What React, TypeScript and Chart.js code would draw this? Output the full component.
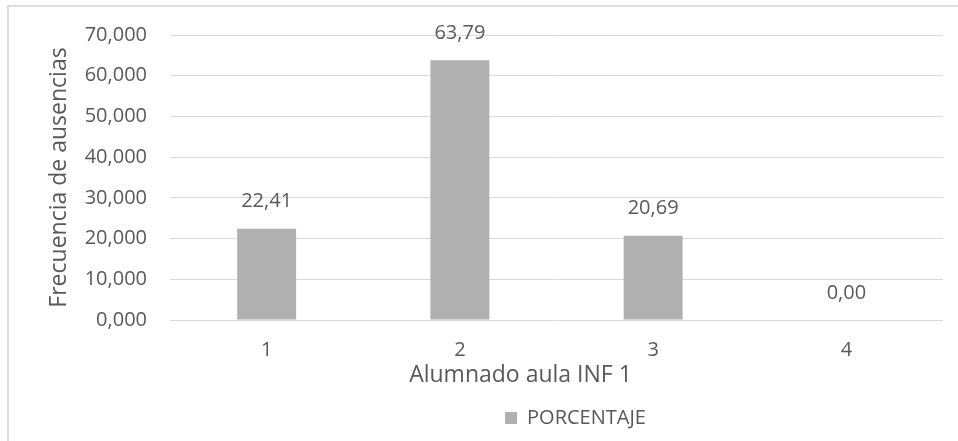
import React, { useEffect, useRef } from "react";
import { Chart, registerables } from "chart.js";

Chart.register(...registerables);

const categories = ["1", "2", "3", "4"];
const porcentaje = [22.41, 63.79, 20.69, 0.0];
const seriesName = "PORCENTAJE";
const yTitle = "Frecuencia de ausencias";
const xTitle = "Alumnado aula INF 1";
const yMin = 0;
const yMax = 70;
const yStep = 10;

const FONT = "'Open Sans', sans-serif";
const TEXT = "#595959";
const BAR = "#B0B0B0";
const GRID = "#D9D9D9";

const fmt = (v: number, d: number) => v.toFixed(d).replace(".", ",");

const dataLabels = {
  id: "dataLabels",
  afterDatasetsDraw(chart: any) {
    const ctx = chart.ctx;
    const meta = chart.getDatasetMeta(0);
    ctx.save();
    ctx.font = `20px ${FONT}`;
    ctx.fillStyle = TEXT;
    ctx.textAlign = "center";
    ctx.textBaseline = "middle";
    meta.data.forEach((bar: any, i: number) => {
      const v = chart.data.datasets[0].data[i] as number;
      ctx.fillText(fmt(v, 2), bar.x, bar.y - 27);
    });
    ctx.restore();
  },
};

const layoutTweaks = {
  id: "layoutTweaks",
  afterLayout(chart: any) {
    const lg = chart.legend;
    if (lg) {
      lg.left += 104;
      lg.right += 104;
    }
    const xs = chart.scales.x;
    if (xs && !xs.__patched) {
      const orig = xs.drawTitle.bind(xs);
      xs.drawTitle = function (...args: any[]) {
        const ctx = chart.ctx;
        ctx.save();
        ctx.translate(-36, 0);
        orig(...args);
        ctx.restore();
      };
      xs.__patched = true;
    }
  },
};

export default function App() {
  const ref = useRef<HTMLCanvasElement>(null);

  useEffect(() => {
    if (!ref.current) return;
    const chart = new Chart(ref.current, {
      type: "bar",
      data: {
        labels: categories,
        datasets: [
          {
            label: seriesName,
            data: porcentaje,
            backgroundColor: BAR,
            borderWidth: 0,
            barPercentage: 0.305,
            categoryPercentage: 1,
          },
        ],
      },
      options: {
        responsive: false,
        animation: false,
        devicePixelRatio: 1,
        layout: { padding: { left: 0, right: 15, top: 35, bottom: 3 } },
        plugins: {
          tooltip: { enabled: false },
          legend: {
            display: true,
            position: "bottom",
            align: "center",
            labels: {
              color: TEXT,
              font: { family: FONT, size: 20 },
              boxWidth: 12,
              boxHeight: 12,
              padding: 10,
            },
          },
        },
        scales: {
          x: {
            grid: { display: false, drawTicks: false },
            border: { display: false },
            ticks: {
              color: TEXT,
              font: { family: FONT, size: 20 },
              padding: 18,
            },
            title: {
              display: true,
              text: xTitle,
              color: TEXT,
              font: { family: FONT, size: 23 },
              padding: { top: 0, bottom: 9 },
            },
            afterFit(scale: any) {
              scale.height = 78;
            },
          },
          y: {
            min: yMin,
            max: yMax,
            grid: { color: GRID, lineWidth: 1, drawTicks: false },
            border: { display: false },
            ticks: {
              stepSize: yStep,
              color: TEXT,
              font: { family: FONT, size: 20 },
              padding: 23,
              callback: (v: any) => fmt(Number(v), 3),
            },
            title: {
              display: true,
              text: yTitle,
              color: TEXT,
              font: { family: FONT, size: 23 },
              padding: { top: 46, bottom: 0 },
            },
            afterFit(scale: any) {
              scale.width = 170;
            },
          },
        },
      },
      plugins: [dataLabels, layoutTweaks],
    });
    return () => chart.destroy();
  }, []);

  return (
    <div
      style={{
        position: "fixed",
        left: 0,
        top: 0,
        width: 958,
        height: 441,
        overflow: "hidden",
        background: "#ffffff",
      }}
    >
      <div
        style={{
          position: "absolute",
          left: 7,
          top: 5,
          width: 1200,
          height: 800,
          border: "2px solid #DEDEDE",
        }}
      />
      <canvas
        ref={ref}
        width={958}
        height={441}
        style={{ position: "absolute", left: 0, top: 0, width: 958, height: 441 }}
      />
    </div>
  );
}
